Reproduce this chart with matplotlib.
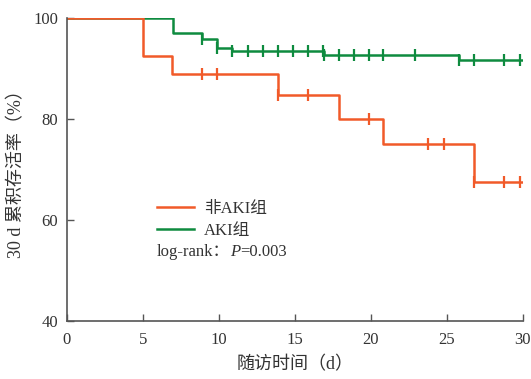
import matplotlib.pyplot as plt
import numpy as np

plt.rcParams['font.family'] = ['Liberation Serif', 'Noto Sans CJK SC']

# Data
aki_times = [0, 7.0, 8.9, 9.9, 10.9, 16.9, 25.8, 30]
aki_surv = [100, 97.0, 95.9, 94.1, 93.4, 92.6, 91.6, 91.6]
aki_censor = [8.9, 9.9, 10.9, 11.9, 12.9, 13.9, 14.9, 15.9, 16.85, 16.9, 17.9,
              18.9, 19.9, 20.8, 22.9, 25.8, 26.8, 28.8, 29.8]

non_times = [0, 5.0, 6.95, 13.9, 17.9, 20.8, 26.8, 30]
non_surv = [100, 92.5, 88.8, 84.7, 80.0, 75.0, 67.5, 67.5]
non_censor = [8.9, 9.9, 13.9, 15.9, 19.9, 23.8, 24.8, 26.8, 28.8, 29.8]

x_ticks = [0, 5, 10, 15, 20, 25, 30]
y_ticks = [40, 60, 80, 100]

c_non = '#F15A29'
c_aki = '#0E8B3F'

def surv_at(times, surv, t):
    idx = np.searchsorted(times, t, side='right') - 1
    return surv[idx]

fig = plt.figure(figsize=(5.31, 3.79), dpi=100)
ax = fig.add_axes([0.1256, 0.153, 0.8588, 0.8])

l_aki, = ax.step(aki_times, aki_surv, where='post', color=c_aki, lw=1.8, label='AKI组')
ax.plot(aki_censor, [surv_at(aki_times, aki_surv, t) for t in aki_censor], ls='none',
        marker='|', ms=8, mew=1.6, color=c_aki)
l_non, = ax.step(non_times, non_surv, where='post', color=c_non, lw=1.8, label='非AKI组')
ax.plot(non_censor, [surv_at(non_times, non_surv, t) for t in non_censor], ls='none',
        marker='|', ms=8, mew=1.6, color=c_non)

ax.set_xlim(0, 30)
ax.set_ylim(40, 100)
ax.set_xticks(x_ticks)
ax.set_yticks(y_ticks)
for s in ['top', 'right']:
    ax.spines[s].set_visible(False)
for s in ['left', 'bottom']:
    ax.spines[s].set_color('#555555')
    ax.spines[s].set_linewidth(1.2)
ax.tick_params(direction='in', length=5, width=1.0, color='#555555',
               labelsize=12, labelcolor='#333333')
ax.tick_params(axis='x', pad=8)
ax.tick_params(axis='y', pad=6)

ax.set_xlabel('随访时间（d）', fontsize=13, color='#333333', labelpad=6)
ax.set_ylabel('30 d 累积存活率（%）', fontsize=13, color='#333333', labelpad=6)

leg = ax.legend(handles=[l_non, l_aki], loc='upper left', bbox_to_anchor=(0.198, 0.395),
                frameon=False, fontsize=12, handlelength=2.2, handletextpad=0.6,
                labelspacing=0.35, borderaxespad=0, borderpad=0,
                labelcolor='#333333')

# log-rank annotation built from pieces (normal / italic / normal)
fig.canvas.draw()
renderer = fig.canvas.get_renderer()
ax_w = ax.get_window_extent(renderer=renderer).width
pieces = [('log-rank：', 'normal'), ('P', 'italic'), ('=0.003', 'normal')]
x = 0.198
for txt, style in pieces:
    t = ax.text(x, 0.228, txt, transform=ax.transAxes, fontsize=12, color='#333333',
                ha='left', va='center', fontstyle=style)
    bb = t.get_window_extent(renderer=renderer)
    x += bb.width / ax_w

fig.savefig('out.png', dpi=100)
